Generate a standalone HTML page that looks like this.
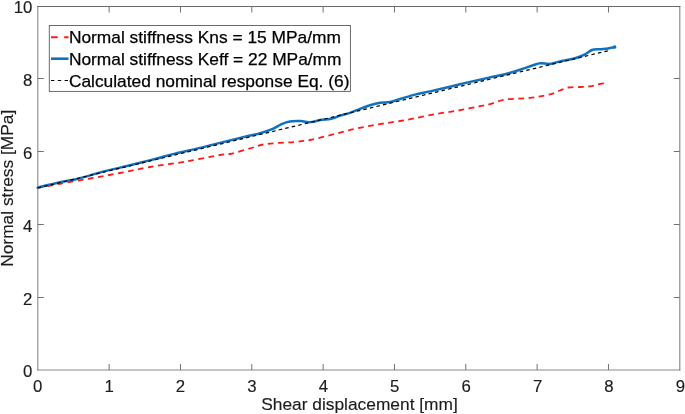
<!DOCTYPE html>
<html><head><meta charset="utf-8"><title>Normal stress vs shear displacement</title>
<style>
html,body{margin:0;padding:0;background:#fff;}
svg{display:block;}
text{font-family:"Liberation Sans",Arial,sans-serif;font-size:17.35px;fill:#1c1c1c;stroke:#1c1c1c;stroke-width:0.15px;}
text.tk{font-size:16.8px;}
text.lg{font-size:17.35px;fill:#000;stroke:#000;stroke-width:0.25px;}
</style></head><body>
<svg width="685" height="414" viewBox="0 0 685 414">
<rect width="685" height="414" fill="#fff"/>

<g stroke="#8a8a8a" stroke-width="1.1" fill="none">
<line x1="37.8" y1="6.0" x2="37.8" y2="370.55"/>
<line x1="37.25" y1="370.0" x2="680.3499999999999" y2="370.0"/>
<line x1="679.8" y1="6.0" x2="679.8" y2="370.55" stroke="#808080"/>
<line x1="37.25" y1="6.5" x2="680.3499999999999" y2="6.5" stroke="#6a6a6a" stroke-width="1"/>
</g>
<g stroke="#727272" stroke-width="1" fill="none">
<line x1="109.13" y1="370.0" x2="109.13" y2="364.0"/>
<line x1="109.13" y1="6.5" x2="109.13" y2="12.5"/>
<line x1="180.47" y1="370.0" x2="180.47" y2="364.0"/>
<line x1="180.47" y1="6.5" x2="180.47" y2="12.5"/>
<line x1="251.80" y1="370.0" x2="251.80" y2="364.0"/>
<line x1="251.80" y1="6.5" x2="251.80" y2="12.5"/>
<line x1="323.13" y1="370.0" x2="323.13" y2="364.0"/>
<line x1="323.13" y1="6.5" x2="323.13" y2="12.5"/>
<line x1="394.47" y1="370.0" x2="394.47" y2="364.0"/>
<line x1="394.47" y1="6.5" x2="394.47" y2="12.5"/>
<line x1="465.80" y1="370.0" x2="465.80" y2="364.0"/>
<line x1="465.80" y1="6.5" x2="465.80" y2="12.5"/>
<line x1="537.13" y1="370.0" x2="537.13" y2="364.0"/>
<line x1="537.13" y1="6.5" x2="537.13" y2="12.5"/>
<line x1="608.47" y1="370.0" x2="608.47" y2="364.0"/>
<line x1="608.47" y1="6.5" x2="608.47" y2="12.5"/>
<line x1="37.8" y1="297.50" x2="43.8" y2="297.50"/>
<line x1="679.8" y1="297.50" x2="673.8" y2="297.50"/>
<line x1="37.8" y1="224.50" x2="43.8" y2="224.50"/>
<line x1="679.8" y1="224.50" x2="673.8" y2="224.50"/>
<line x1="37.8" y1="151.50" x2="43.8" y2="151.50"/>
<line x1="679.8" y1="151.50" x2="673.8" y2="151.50"/>
<line x1="37.8" y1="78.50" x2="43.8" y2="78.50"/>
<line x1="679.8" y1="78.50" x2="673.8" y2="78.50"/>
</g>
<text class="tk" x="37.70" y="392.4" text-anchor="middle">0</text>
<text class="tk" x="109.11" y="392.4" text-anchor="middle">1</text>
<text class="tk" x="180.53" y="392.4" text-anchor="middle">2</text>
<text class="tk" x="251.94" y="392.4" text-anchor="middle">3</text>
<text class="tk" x="323.35" y="392.4" text-anchor="middle">4</text>
<text class="tk" x="394.77" y="392.4" text-anchor="middle">5</text>
<text class="tk" x="466.18" y="392.4" text-anchor="middle">6</text>
<text class="tk" x="537.59" y="392.4" text-anchor="middle">7</text>
<text class="tk" x="609.01" y="392.4" text-anchor="middle">8</text>
<text class="tk" x="680.42" y="392.4" text-anchor="middle">9</text>
<text class="tk" x="32.4" y="377.20" text-anchor="end">0</text>
<text class="tk" x="32.4" y="304.70" text-anchor="end">2</text>
<text class="tk" x="32.4" y="231.60" text-anchor="end">4</text>
<text class="tk" x="32.4" y="158.90" text-anchor="end">6</text>
<text class="tk" x="32.4" y="85.70" text-anchor="end">8</text>
<text class="tk" x="32.4" y="12.80" text-anchor="end">10</text>
<text x="359.50" y="409.8" text-anchor="middle">Shear displacement [mm]</text>
<text transform="translate(13.0,188.25) rotate(-90)" text-anchor="middle">Normal stress [MPa]</text>
<path d="M37.7,187.8 C41.4,187.1 51.3,185.4 60.0,183.8 C68.7,182.2 80.0,180.3 90.0,178.5 C100.0,176.7 110.0,174.9 120.0,173.0 C130.0,171.1 139.2,168.9 150.0,167.0 C160.8,165.1 173.3,163.7 185.0,161.7 C196.7,159.7 212.2,156.3 220.0,155.0 C227.8,153.7 227.0,154.7 232.0,153.6 C237.0,152.5 244.7,149.9 250.0,148.4 C255.3,146.9 259.0,145.3 264.0,144.4 C269.0,143.5 274.7,143.2 280.0,142.8 C285.3,142.4 291.0,142.4 296.0,141.9 C301.0,141.4 305.2,140.9 310.0,140.0 C314.8,139.1 320.0,137.7 325.0,136.5 C330.0,135.3 335.0,133.9 340.0,132.6 C345.0,131.3 350.0,130.0 355.0,128.9 C360.0,127.8 365.0,126.7 370.0,125.8 C375.0,124.9 380.0,124.1 385.0,123.3 C390.0,122.5 395.0,121.8 400.0,121.0 C405.0,120.2 409.0,119.4 415.0,118.2 C421.0,117.0 428.8,115.3 436.0,114.0 C443.2,112.7 452.3,111.6 458.0,110.6 C463.7,109.6 466.3,108.9 470.0,108.2 C473.7,107.5 476.7,106.9 480.0,106.2 C483.3,105.5 485.8,105.3 490.0,104.2 C494.2,103.1 498.3,100.6 505.0,99.6 C511.7,98.5 522.5,98.8 530.0,97.9 C537.5,97.0 545.0,95.6 550.0,94.4 C555.0,93.2 557.0,91.7 560.0,90.5 C563.0,89.3 564.7,88.1 568.0,87.5 C571.3,86.9 576.3,87.2 580.0,87.0 C583.7,86.8 587.0,86.7 590.0,86.3 C593.0,85.9 595.6,85.0 598.0,84.5 C600.4,84.0 603.4,83.5 604.5,83.3" stroke="#ff1a1a" stroke-width="1.8" stroke-dasharray="5.7,4.5" fill="none" stroke-linejoin="round"/>
<path d="M37.7,187.6 C41.4,186.7 53.6,183.6 60.0,182.2 C66.4,180.8 70.0,180.6 76.0,179.2 C82.0,177.8 90.7,175.1 96.0,173.6 C101.3,172.1 104.0,171.4 108.0,170.4 C112.0,169.4 114.7,168.9 120.0,167.6 C125.3,166.3 134.0,164.3 140.0,162.8 C146.0,161.3 150.2,160.2 156.0,158.7 C161.8,157.2 167.7,155.4 175.0,153.6 C182.3,151.8 191.7,149.9 200.0,147.9 C208.3,145.9 217.5,143.4 225.0,141.6 C232.5,139.8 239.2,138.2 245.0,136.8 C250.8,135.4 255.5,134.6 260.0,133.3 C264.5,132.0 268.7,130.6 272.0,129.2 C275.3,127.8 277.8,126.1 280.0,125.0 C282.2,123.9 283.4,123.2 285.4,122.6 C287.4,122.0 289.4,121.5 292.0,121.2 C294.6,121.0 298.3,120.9 301.0,121.1 C303.7,121.3 306.3,122.2 308.3,122.3 C310.3,122.4 311.1,122.2 313.0,121.8 C314.9,121.4 317.2,120.6 320.0,120.1 C322.8,119.6 327.5,119.4 330.0,119.0 C332.5,118.6 333.3,118.2 335.0,117.6 C336.7,117.0 337.5,116.4 340.0,115.6 C342.5,114.8 346.7,114.0 350.0,112.9 C353.3,111.8 356.7,110.1 360.0,108.8 C363.3,107.5 366.7,106.2 370.0,105.2 C373.3,104.2 376.7,103.3 380.0,102.8 C383.3,102.3 386.7,102.7 390.0,102.1 C393.3,101.5 395.8,100.2 400.0,99.0 C404.2,97.8 410.0,95.9 415.0,94.6 C420.0,93.3 424.2,92.7 430.0,91.4 C435.8,90.1 443.3,88.3 450.0,86.7 C456.7,85.1 463.3,83.5 470.0,81.9 C476.7,80.4 484.2,78.7 490.0,77.4 C495.8,76.1 500.0,75.5 505.0,74.2 C510.0,72.9 515.3,71.3 520.0,69.8 C524.7,68.3 529.6,66.4 533.0,65.3 C536.4,64.2 537.5,63.5 540.3,63.3 C543.1,63.1 546.7,64.2 550.0,63.9 C553.3,63.6 555.8,62.3 560.0,61.4 C564.2,60.5 570.8,59.4 575.0,58.2 C579.2,57.0 582.2,55.7 585.0,54.3 C587.8,52.9 589.5,50.9 592.0,50.0 C594.5,49.1 597.3,49.5 600.0,49.2 C602.7,48.9 605.5,48.8 608.0,48.4 C610.5,48.0 613.8,47.2 615.0,47.0" stroke="#0f72c0" stroke-width="2.5" fill="none" stroke-linejoin="round" stroke-linecap="round"/>
<path d="M37.7,188.0 L608.7,50.6" stroke="#000" stroke-width="1.2" stroke-dasharray="3.5,3.2" fill="none"/>
<circle cx="614.6" cy="47.0" r="1.7" fill="#0f72c0"/>
<rect x="49.3" y="25.5" width="301.09999999999997" height="65.9" fill="#fff" stroke="#5c5c5c" stroke-width="0.9"/>
<line x1="51" y1="37.2" x2="68.5" y2="37.2" stroke="#ff1a1a" stroke-width="2" stroke-dasharray="6.7,6.5"/>
<line x1="51" y1="58.7" x2="68.5" y2="58.7" stroke="#0f72c0" stroke-width="2.6"/>
<line x1="51" y1="80.5" x2="68.5" y2="80.5" stroke="#000" stroke-width="1.1" stroke-dasharray="3.4,3.4"/>
<text class="lg" x="68.9" y="43.20">Normal stiffness Kns = 15 MPa/mm</text>
<text class="lg" x="68.9" y="64.70">Normal stiffness Keff = 22 MPa/mm</text>
<text class="lg" x="68.9" y="86.50">Calculated nominal response Eq. (6)</text>
</svg></body></html>
